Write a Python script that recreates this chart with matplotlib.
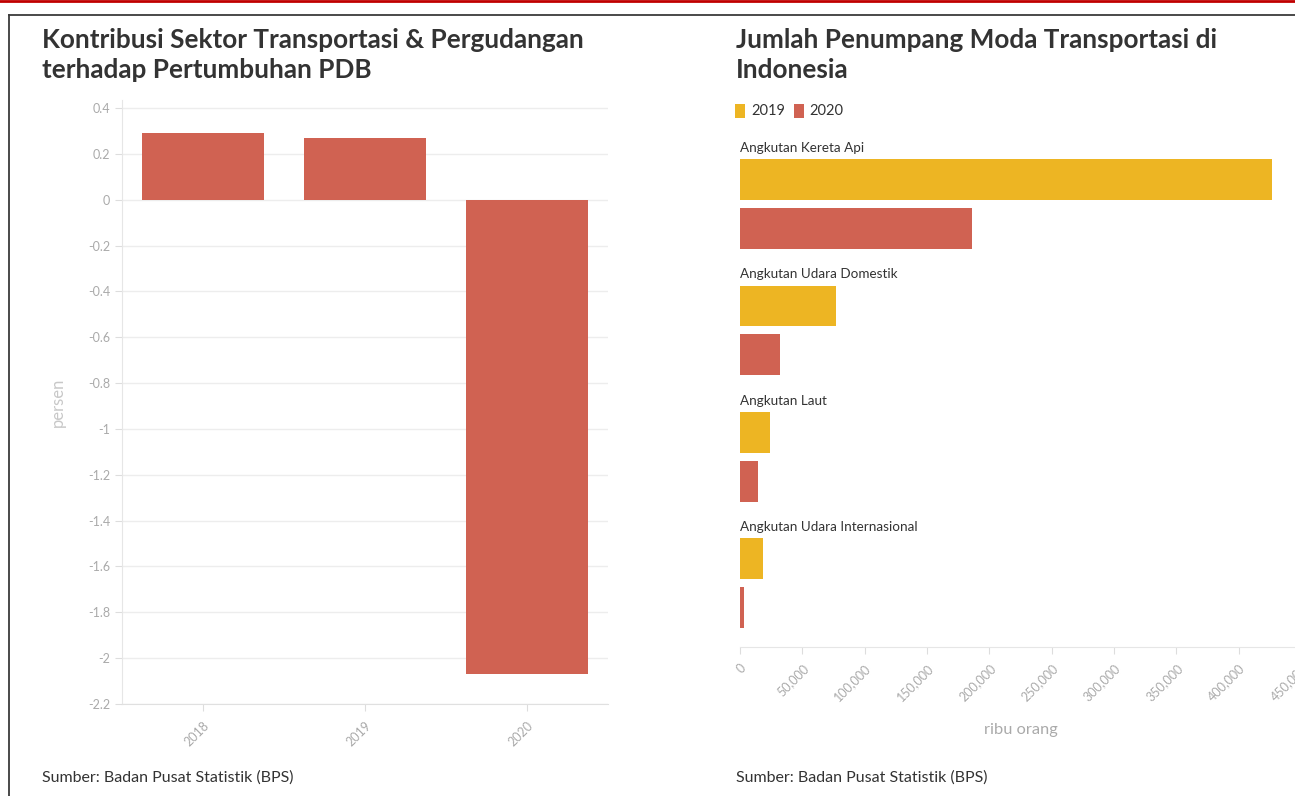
import matplotlib
matplotlib.use("Agg")
import matplotlib.pyplot as plt
from matplotlib.patches import Patch
from matplotlib.lines import Line2D
from matplotlib.ticker import FuncFormatter

plt.rcParams['font.family'] = ['Lato', 'DejaVu Sans']

# ---- data ----
years = ["2018", "2019", "2020"]
kontribusi = [0.29, 0.27, -2.07]
left_yticks = [0.4, 0.2, 0, -0.2, -0.4, -0.6, -0.8, -1, -1.2, -1.4, -1.6, -1.8, -2, -2.2]

moda = ["Angkutan Kereta Api", "Angkutan Udara Domestik", "Angkutan Laut",
        "Angkutan Udara Internasional"]
penumpang_2019 = [427000, 76800, 23800, 18700]
penumpang_2020 = [186200, 32100, 14400, 3500]
right_xticks = [0, 50000, 100000, 150000, 200000, 250000, 300000, 350000, 400000, 450000]

RED = '#D06252'
YEL = '#EDB523'
TXT = '#333333'
TICK = '#aaaaaa'

W, H = 1295, 796
fig = plt.figure(figsize=(W / 100, H / 100), dpi=100)
fig.patch.set_facecolor('white')

def fx(px):
    return px / W

def fy(py):
    return 1 - py / H

# ---- decorations: top red rule and card border ----
fig.add_artist(Line2D([0, 1], [fy(1), fy(1)], color='#c00000', lw=2))
fig.add_artist(Line2D([fx(9), 1], [fy(14.5), fy(14.5)], color='#3a3a3a', lw=1.3))
fig.add_artist(Line2D([fx(9), fx(9)], [0, fy(14.5)], color='#3a3a3a', lw=1.3))

# ---- left chart ----
axL = fig.add_axes([fx(122), fy(704), fx(608) - fx(122), fy(100) - fy(704)])
xpos = list(range(len(years)))
axL.bar(xpos, kontribusi, width=0.75, color=RED, zorder=3)
axL.set_xlim(-0.5, 2.5)
axL.set_ylim(-2.2, 0.435)
axL.set_yticks(left_yticks)
axL.set_yticklabels([f"{v:g}" for v in left_yticks])
axL.set_xticks(xpos)
axL.set_xticklabels(years, rotation=45, ha='right', rotation_mode='anchor')
axL.grid(axis='y', color='#ededed', lw=1, zorder=0)
for s in ['top', 'right']:
    axL.spines[s].set_visible(False)
axL.spines['left'].set_color('#e6e6e6')
axL.spines['bottom'].set_color('#e0e0e0')
axL.tick_params(axis='both', colors='#dddddd', labelcolor=TICK, labelsize=9, length=5)
axL.tick_params(axis='x', pad=6)
axL.set_ylabel('persen', color='#c8c8c8', fontsize=12)
axL.yaxis.set_label_coords(-0.115, 0.5)

fig.text(fx(42), fy(55), 'Kontribusi Sektor Transportasi & Pergudangan\nterhadap Pertumbuhan PDB',
         ha='left', va='center', fontsize=18.8, fontweight='bold', color=TXT, linespacing=1.25)
fig.text(fx(42), fy(778), 'Sumber: Badan Pusat Statistik (BPS)', ha='left', va='center',
         fontsize=11.5, color=TXT)

# ---- right chart ----
axR = fig.add_axes([fx(740), fy(647), fx(1301) - fx(740), fy(135) - fy(647)])
pitch = 1.0
off2020 = 0.385
bh = 0.324
ypos = [i * pitch for i in range(len(moda))]
axR.barh(ypos, penumpang_2019, height=bh, color=YEL, label='2019')
axR.barh([y + off2020 for y in ypos], penumpang_2020, height=bh, color=RED, label='2020')
for y, name in zip(ypos, moda):
    axR.text(0, y - 0.25, name, ha='left', va='center', fontsize=9.7, color=TXT)
axR.set_xlim(0, 450000)
axR.set_ylim(3.696, -0.352)
axR.set_yticks([])
axR.set_xticks(right_xticks)
axR.xaxis.set_major_formatter(FuncFormatter(lambda v, p: f"{v:,.0f}"))
plt.setp(axR.get_xticklabels(), rotation=45, ha='right', rotation_mode='anchor')
for s in ['top', 'right', 'left']:
    axR.spines[s].set_visible(False)
axR.spines['bottom'].set_color('#e6e6e6')
axR.tick_params(axis='x', colors='#dddddd', labelcolor=TICK, labelsize=9, length=5, pad=6)
axR.set_xlabel('ribu orang', color=TICK, fontsize=11.8)
axR.xaxis.set_label_coords(0.5, -0.162)
axR.xaxis.label.set_va('center')

fig.text(fx(736), fy(55), 'Jumlah Penumpang Moda Transportasi di\nIndonesia',
         ha='left', va='center', fontsize=18.8, fontweight='bold', color=TXT, linespacing=1.25)
fig.text(fx(736), fy(778), 'Sumber: Badan Pusat Statistik (BPS)', ha='left', va='center',
         fontsize=11.5, color=TXT)

handles = [Patch(facecolor=YEL, edgecolor='none', label='2019'),
           Patch(facecolor=RED, edgecolor='none', label='2020')]
fig.legend(handles=handles, loc='center left', bbox_to_anchor=(fx(735), fy(111)),
           ncol=2, frameon=False, fontsize=10.5, handlelength=0.7, handleheight=1.1,
           handletextpad=0.4, columnspacing=0.6, borderpad=0, borderaxespad=0,
           labelcolor=TXT)

fig.savefig('out.png', dpi=100)
